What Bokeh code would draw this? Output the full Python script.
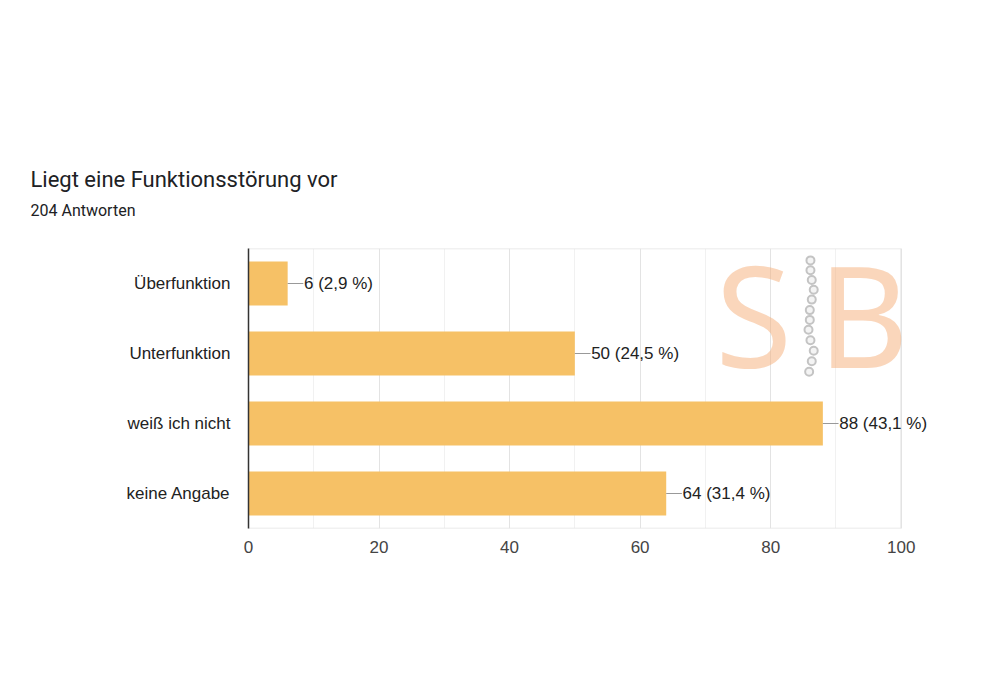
from bokeh.plotting import figure
from bokeh.models import (Range1d, FixedTicker, Title, Label, ColumnDataSource)
from bokeh.core.properties import value
from bokeh.embed import file_html
from bokeh.resources import INLINE

# ---- data ----
categories = ["Überfunktion", "Unterfunktion", "weiß ich nicht", "keine Angabe"]
counts = [6, 50, 88, 64]
percent_labels = ["2,9 %", "24,5 %", "43,1 %", "31,4 %"]
total_answers = 204
x_ticks = [0, 20, 40, 60, 80, 100]
x_minor = [10, 30, 50, 70, 90]
x_max = 100

title_text = "Liegt eine Funktionsstörung vor"
subtitle_text = f"{total_answers} Antworten"

n = len(categories)
ypos = [n - 1 - i for i in range(n)]
labels = [f"{c} ({p})" for c, p in zip(counts, percent_labels)]
src = ColumnDataSource(dict(y=ypos, x=counts, x1=[c + 2.4 for c in counts],
                            xt=[c + 2.5 for c in counts], lab=labels))

p = figure(width=990, height=665, output_backend="svg", toolbar_location=None,
           x_range=Range1d(0, 112), y_range=Range1d(-0.5, n - 0.5),
           min_border_left=248, min_border_right=11, min_border_bottom=137,
           min_border_top=248)
p.title.visible = False

spacer = Title(text=" ", text_font_size="19px", standoff=0)
sub = Title(text=subtitle_text, align="left", offset=-218,
            text_font="Roboto", text_font_size="16px",
            text_font_style="normal", text_color="#202124", standoff=11)
ttl = Title(text=title_text, align="left", offset=-218,
            text_font="Roboto", text_font_size="22px",
            text_font_style="normal", text_color="#202124", standoff=4)
p.add_layout(spacer, "above")
p.add_layout(sub, "above")
p.add_layout(ttl, "above")

p.outline_line_color = None
p.background_fill_color = "white"
p.border_fill_color = "white"

# grid
p.xaxis.ticker = FixedTicker(ticks=x_ticks, minor_ticks=x_minor)
p.xgrid.grid_line_color = "#e3e3e3"
p.xgrid.minor_grid_line_color = "#f1f1f1"
p.ygrid.grid_line_color = None

# chart border (top, bottom, right)
p.segment(x0=[0, 0, x_max], y0=[n - 0.5, -0.5, -0.5],
          x1=[x_max, x_max, x_max], y1=[n - 0.5, -0.5, n - 0.5],
          line_color="#e3e3e3", line_width=1.5)

# watermark (decorative)
p.add_layout(Label(x=71.5, y=215, y_units="screen", text="S",
                   text_baseline="alphabetic",
                   text_font="Noto Sans", text_font_size="140px",
                   text_color="#f6ae78", text_alpha=0.5))
p.add_layout(Label(x=87.2, y=215, y_units="screen", text="B",
                   text_baseline="alphabetic",
                   text_font="Noto Sans", text_font_size="140px",
                   text_color="#f6ae78", text_alpha=0.5))
chain_x = [86.1, 86.1, 86.3, 86.6, 86.3, 86.0, 86.0, 85.8, 86.1, 86.6, 86.3, 85.9]
chain_y = [3.33, 3.19, 3.05, 2.91, 2.77, 2.62, 2.48, 2.34, 2.19, 2.04, 1.89, 1.74]
p.scatter(chain_x, chain_y, marker="circle", size=8, fill_color="#f4f4f4",
          line_color="#c4c4c4", line_width=2)

# bars
p.hbar(y="y", right="x", left=0, height=0.63, source=src,
       fill_color="#f6c166", line_color=None)
p.segment(x0="x", y0="y", x1="x1", y1="y", source=src,
          line_color="#999999", line_width=1)
p.text(x="xt", y="y", text="lab", source=src, text_baseline="middle",
       text_align="left", text_font=value("Liberation Sans"),
       text_font_size="17px", text_color="#222222")

# axes
p.yaxis.ticker = FixedTicker(ticks=ypos)
p.yaxis.major_label_overrides = {y: c for y, c in zip(ypos, categories)}
p.yaxis.major_tick_line_color = None
p.yaxis.minor_tick_line_color = None
p.yaxis.axis_line_color = "#333333"
p.yaxis.axis_line_width = 1.5
p.yaxis.major_label_standoff = 12
p.yaxis.major_label_text_font = "Liberation Sans"
p.yaxis.major_label_text_font_size = "17px"
p.yaxis.major_label_text_color = "#222222"

p.xaxis.axis_line_color = None
p.xaxis.major_tick_line_color = None
p.xaxis.minor_tick_line_color = None
p.xaxis.major_label_standoff = 6
p.xaxis.major_label_text_font = "Liberation Sans"
p.xaxis.major_label_text_font_size = "17px"
p.xaxis.major_label_text_color = "#444444"

open("out.html", "w").write(file_html(p, INLINE))
